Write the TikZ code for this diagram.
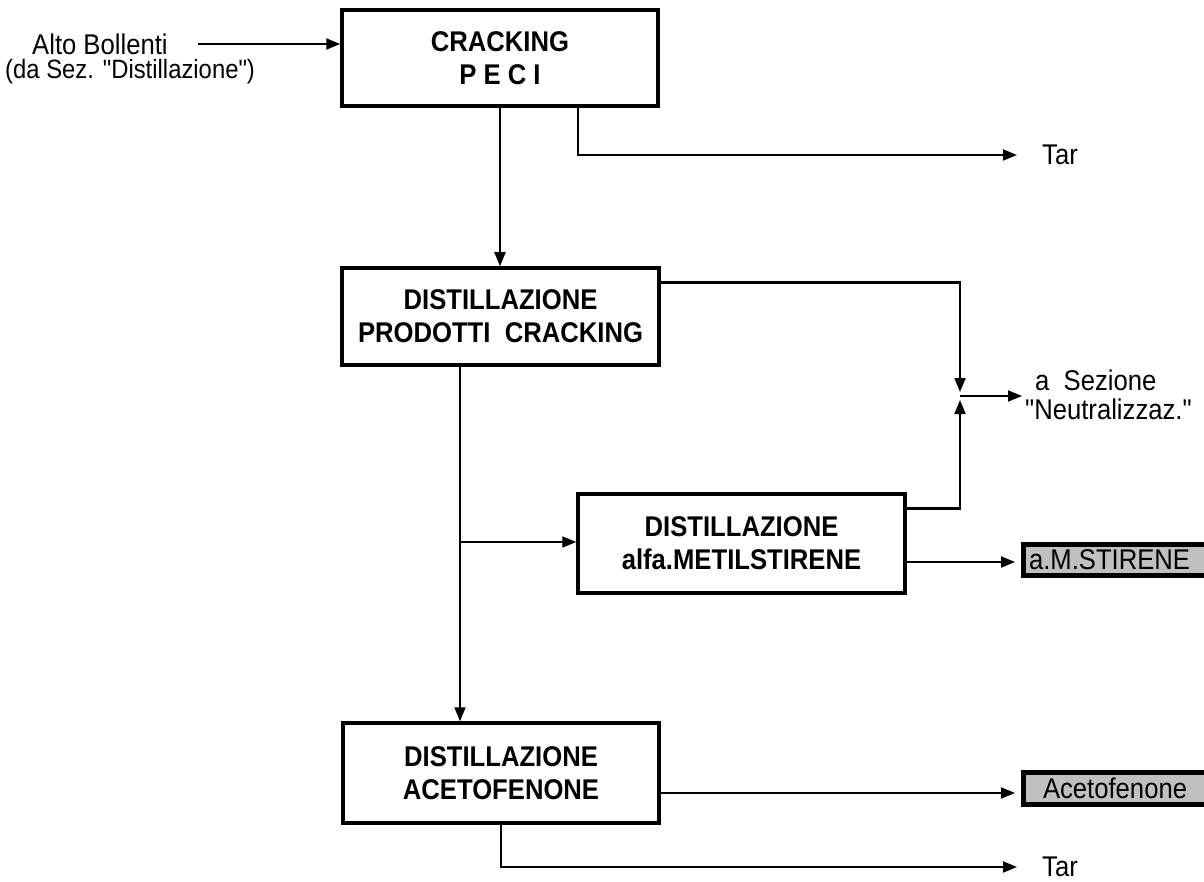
\documentclass[tikz,border=0pt]{standalone}
\usepackage{fontspec}
\setmainfont{Liberation Sans}[FakeStretch=0.9, Ligatures=TeXOff]
\usetikzlibrary{arrows.meta,shadows}
\definecolor{prodgray}{RGB}{192,192,192}
\begin{document}
\begin{tikzpicture}[x=1pt,y=-1pt,
  every node/.style={font=\fontsize{28.5}{34}\selectfont},
  unit/.style={draw, line width=3.5pt, minimum width=316pt, minimum height=96pt,
    align=center, inner sep=0pt, font=\fontsize{28.5}{33}\selectfont\bfseries},
  flow/.style={line width=2pt},
  heavy/.style={line width=3pt},
  arr/.style={flow, -{Triangle[length=14pt,width=11pt]}},
  prod/.style={draw, line width=5pt, fill=prodgray, anchor=west, inner ysep=0pt,
    align=left,
    drop shadow={shadow xshift=0pt, shadow yshift=-3pt, fill=black, opacity=1}},
  lbl/.style={anchor=west, inner sep=0pt}]
\useasboundingbox (0,0) rectangle (1204,882);

% process units
\node[unit] (crack) at (500,58) {CRACKING\\P E C I};
\node[unit, minimum width=317pt, minimum height=97pt] (dpc) at (500.5,316.5)
  {DISTILLAZIONE\\PRODOTTI\ \ CRACKING};
\node[unit, minimum width=327pt, minimum height=99pt] (alfa) at (741.5,543.5)
  {DISTILLAZIONE\\alfa.METILSTIRENE};
\node[unit, minimum height=100pt] (aceto) at (501,773) {DISTILLAZIONE\\ACETOFENONE};

% feed
\node[lbl] (feed) at (32,44) {Alto Bollenti};
\node[lbl, font=\fontsize{26.5}{34}\selectfont] (feedsrc) at (5,72) {(da Sez. "Distillazione")};
\draw[arr] ([xshift=193pt]feedsrc.west |- feed.east) -- (crack.west |- feed.east);

% tar from cracking
\node[lbl] (tar1) at (1042,155) {Tar};
\coordinate (tj) at (578,155);
\draw[arr] (crack.south -| tj) -- (tj) -- ([xshift=-25pt]tar1.west);

% cracking -> distillation
\draw[arr] (crack.south) -- (dpc.north -| crack.south);

% distillation bottoms split
\coordinate (jb) at (460,542);
\draw[arr] (dpc.south -| jb) -- (aceto.north -| jb);
\draw[arr] (jb) -- (alfa.west |- jb);

% lights to neutralisation
\node[lbl, align=left, font=\fontsize{28.5}{29}\selectfont] (neut) at (1025,395)
  {\hspace{10pt}a\ \ Sezione\\"Neutralizzaz."};
\coordinate (na) at (960,283);
\coordinate (nb) at (960,508);
\coordinate (nx) at (960,396);
\draw[heavy] (dpc.east |- na) -- ([xshift=1pt]na);
\draw[arr, shorten >=4pt] (na) -- (nx);
\draw[heavy] (alfa.east |- nb) -- ([xshift=1pt]nb);
\draw[arr, shorten >=4pt] (nb) -- (nx);
\draw[arr, shorten >=3pt] (nx) -- (neut.west |- nx);

% products
\node[prod, inner xsep=6pt, text width=188pt, minimum height=31pt] (amst) at (1020.5,559.5)
  {a.M.STIRENE};
\node[prod, inner xsep=20pt, text width=160pt, minimum height=32pt] (acet) at (1020.5,788)
  {Acetofenone};
\coordinate (pa) at (1015,562);
\coordinate (pb) at (1015,793);
\draw[arr] (alfa.east |- pa) -- (pa);
\draw[arr] (aceto.east |- pb) -- (pb);

% tar from acetophenone column
\node[lbl] (tar2) at (1042,867) {Tar};
\draw[arr] (aceto.south) -- (aceto.south |- tar2.west) -- ([xshift=-25pt]tar2.west);
\end{tikzpicture}
\end{document}
